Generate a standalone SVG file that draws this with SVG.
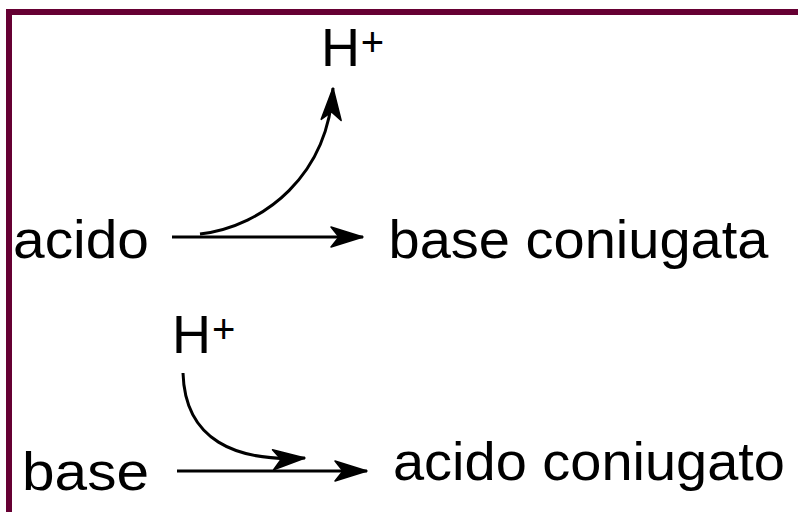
<svg xmlns="http://www.w3.org/2000/svg" width="798" height="512" viewBox="0 0 798 512">
<defs>
<style>
.t{font-family:"Liberation Sans",Arial,sans-serif;font-size:54px;fill:#000}
.p{font-family:"Liberation Sans",Arial,sans-serif;font-size:40px;fill:#000;text-anchor:middle}
.c{fill:none;stroke:#000;stroke-width:3}
</style>
<marker id="ah" markerUnits="userSpaceOnUse" markerWidth="36" markerHeight="26" refX="33" refY="13" orient="auto" overflow="visible">
<path d="M33,13 L1,3 L9,13 L1,23 Z" fill="#000" stroke="#000" stroke-width="1.5" stroke-linejoin="round"/>
</marker>
</defs>
<rect width="798" height="512" fill="#fff"/>
<path d="M9,512 L9,12 L798,12" fill="none" stroke="#660033" stroke-width="6"/>
<g id="acido"><text class="t" x="13" y="258" textLength="136" lengthAdjust="spacingAndGlyphs">acido</text></g>
<g id="base-coniugata"><text class="t" x="388.5" y="258" textLength="380" lengthAdjust="spacingAndGlyphs">base coniugata</text></g>
<g id="h-top"><text class="t" x="321" y="66">H</text><text class="p" x="372.5" y="56">+</text></g>
<g id="base"><text class="t" x="22" y="490" textLength="127" lengthAdjust="spacingAndGlyphs">base</text></g>
<g id="acido-coniugato"><text class="t" x="393" y="480" textLength="392" lengthAdjust="spacingAndGlyphs">acido coniugato</text></g>
<g id="h-bottom"><text class="t" x="172" y="353">H</text><text class="p" x="223.7" y="343">+</text></g>
<g id="connectors">
<path class="c" d="M172,237 L363,237" marker-end="url(#ah)"/>
<path class="c" d="M200,234 C265,226 328,175 333,88" marker-end="url(#ah)"/>
<path class="c" d="M177,471 L367,471" marker-end="url(#ah)"/>
<path class="c" d="M183,373 C185,440 235,462 305,458" marker-end="url(#ah)"/>
</g>
</svg>
